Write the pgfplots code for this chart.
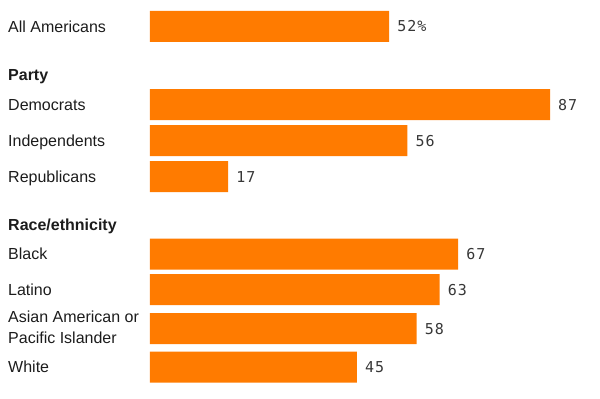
\documentclass[border=0pt]{standalone}
\usepackage{pgfplots}
\pgfplotsset{compat=1.18}
\usepackage{fontspec}
\setmainfont{Liberation Sans}
\newfontfamily\valfont[LetterSpace=6.5]{DejaVu Sans Mono}
\definecolor{barorange}{RGB}{255,123,0}
\definecolor{txt}{RGB}{28,28,28}
\definecolor{valtxt}{RGB}{55,55,55}
\tikzset{lab/.style={anchor=base west, inner sep=0pt, text=txt, font=\fontsize{16bp}{20.5bp}\selectfont}}
\begin{document}
\begin{tikzpicture}
\begin{axis}[
  scale only axis, width=600bp, height=399bp,
  xmin=-32.62, xmax=97.87, ymin=0, ymax=399, y dir=reverse,
  hide axis, clip=false,
  xbar, bar width=31bp, bar shift=0pt,
  nodes near coords, point meta=explicit symbolic,
  nodes near coords style={anchor=base west, inner sep=0pt, xshift=8bp, yshift=-5.5bp,
    font=\valfont\fontsize{15bp}{18bp}\selectfont, text=valtxt},
]
\draw[draw=none] (rel axis cs:0,0) rectangle (rel axis cs:1,1);
\addplot[fill=barorange, draw=none] coordinates {
  (52,26.5) [52\%]
  (87,104.5) [87]
  (56,140.5) [56]
  (17,176.5) [17]
  (67,254) [67]
  (63,289.5) [63]
  (58,328.5) [58]
  (45,367) [45]
};
\node[lab] at (axis cs:-30.88,32) {All Americans};
\node[lab] at (axis cs:-30.88,80.7) {\bfseries Party};
\node[lab] at (axis cs:-30.88,110) {Democrats};
\node[lab] at (axis cs:-30.88,146) {Independents};
\node[lab] at (axis cs:-30.88,182) {Republicans};
\node[lab] at (axis cs:-30.88,230) {\bfseries Race/ethnicity};
\node[lab] at (axis cs:-30.88,259.5) {Black};
\node[lab] at (axis cs:-30.88,295) {Latino};
\node[lab] at (axis cs:-30.88,322.3) {Asian American or};
\node[lab] at (axis cs:-30.88,343) {Pacific Islander};
\node[lab] at (axis cs:-30.88,372.5) {White};
\end{axis}
\end{tikzpicture}
\end{document}
